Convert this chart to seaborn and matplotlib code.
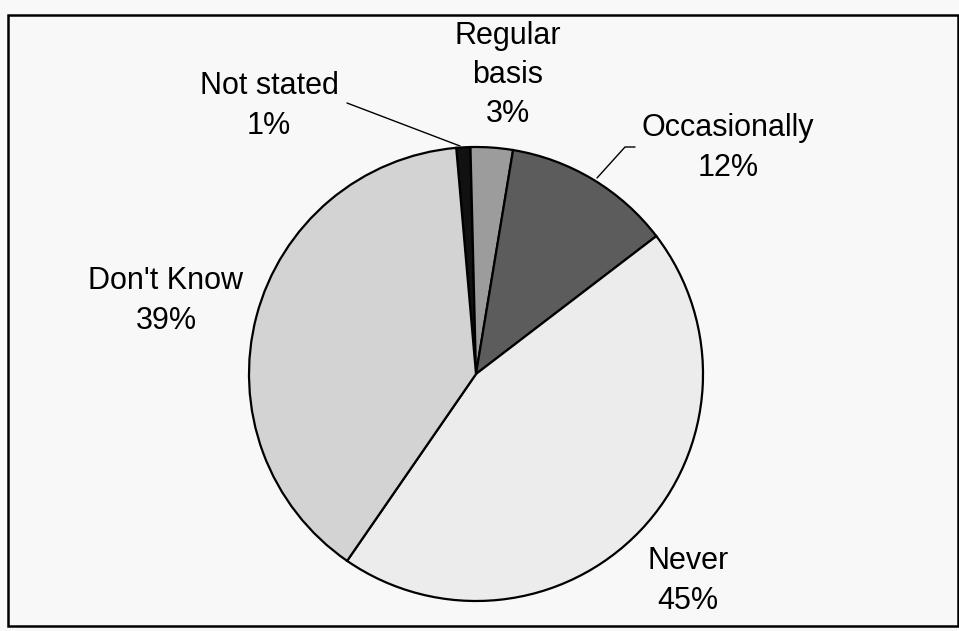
import matplotlib
matplotlib.use("Agg")
import matplotlib.pyplot as plt
import seaborn as sns
from matplotlib.patches import Rectangle

sns.set_theme(style="white")
plt.rcParams['font.family'] = ['Liberation Sans', 'DejaVu Sans']

# data (clockwise from the top)
categories = ["Not stated", "Regular\nbasis", "Occasionally", "Never", "Don't Know"]
shares = [1, 3, 12, 45, 39]
fills = ["#111111", "#9c9c9c", "#5c5c5c", "#ececec", "#d3d3d3"]

# label anchors in pixels (x, y from top)
label_px = [(269, 106), (508, 75), (728, 148), (688, 581), (166, 301)]

W, H = 959, 631
cx, cy, R = 476, 374, 227

fig = plt.figure(figsize=(W / 100, H / 100), dpi=100, facecolor="#f8f8f8")
ax = fig.add_axes([0, 0, 1, 1])
ax.set_facecolor("#f8f8f8")

ax.pie(shares, colors=fills, startangle=95, counterclock=False,
       wedgeprops=dict(edgecolor="black", linewidth=1.6))

def to_data(px, py):
    return (px - cx) / R, (cy - py) / R

ax.set_xlim(-cx / R, (W - cx) / R)
ax.set_ylim(-(H - cy) / R, cy / R)
ax.set_aspect("auto")
ax.axis("off")

for name, val, (px, py) in zip(categories, shares, label_px):
    x, y = to_data(px, py)
    ax.text(x, y, f"{name}\n{val}%", ha="center", va="center",
            fontsize=22, color="black", linespacing=1.4)

# leader lines
for pts in ([(347, 103), (460, 146)], [(635, 147), (625, 147), (597, 178)]):
    xs, ys = zip(*[to_data(*p) for p in pts])
    ax.plot(xs, ys, color="black", lw=1.0)

# frame around the chart
fig.patches.append(Rectangle((8 / W, 1 - 626 / H), (958 - 8) / W, (626 - 15) / H,
                             transform=fig.transFigure, fill=False,
                             edgecolor="black", lw=1.8))

fig.savefig("out.png", dpi=100, facecolor=fig.get_facecolor())
